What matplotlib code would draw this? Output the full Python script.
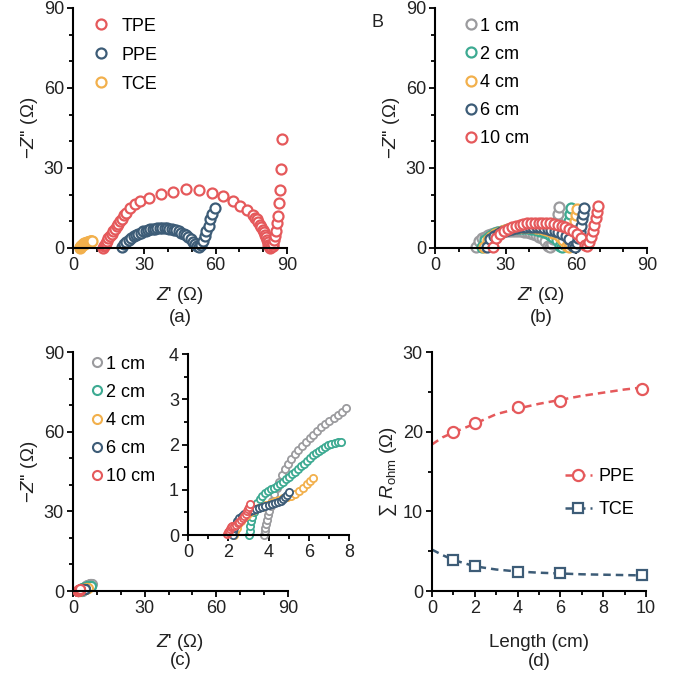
import matplotlib
matplotlib.use("Agg")
import matplotlib.pyplot as plt
from matplotlib.ticker import MultipleLocator

plt.rcParams['font.family'] = ['Liberation Sans', 'DejaVu Sans']
plt.rcParams['mathtext.fontset'] = 'custom'
plt.rcParams['mathtext.rm'] = 'Liberation Sans'
plt.rcParams['mathtext.it'] = 'Liberation Sans:italic'
plt.rcParams['font.size'] = 12.5

RED = '#E5595B'
BLUE = '#3D5C77'
ORANGE = '#F2B04C'
GREEN = '#3DAA92'
GRAY = '#9B9B9E'
TXT = '#222222'

# ---- (a) Nyquist plots of the three electrodes ----
tpe_x = [12.7, 13.0, 13.4, 13.9, 14.4, 14.9, 15.5, 16.2, 16.9, 17.6, 18.3, 19.0, 19.7, 20.4,
         21.3, 22.3, 23.9, 26.0, 28.2, 32.1, 37.0, 41.9, 47.5, 52.9, 58.3, 62.9, 67.1, 70.4,
         73.2, 75.5, 76.5, 77.2, 78.0, 78.6, 79.2, 79.7, 80.2, 80.7, 81.1, 81.4, 81.8, 82.1,
         82.5, 82.8, 83.3, 83.9, 84.3, 84.7, 85.0, 85.3, 85.6, 86.0, 86.7, 87.0, 87.3, 87.7]
tpe_y = [0.0, 0.6, 1.3, 2.0, 2.8, 3.6, 4.5, 5.4, 6.3, 7.2, 8.1, 9.0, 10.0, 11.0,
         12.2, 13.3, 15.1, 16.5, 17.6, 18.8, 20.1, 21.1, 22.0, 21.9, 20.7, 19.4, 17.8, 15.9,
         14.1, 12.2, 11.4, 10.7, 9.8, 8.8, 7.8, 6.9, 5.9, 5.0, 4.0, 3.1, 2.2, 1.3,
         0.6, 0.0, 0.2, 0.6, 1.5, 3.1, 4.6, 6.3, 9.2, 11.9, 16.7, 21.7, 29.5, 40.8]
ppe_x = [20.5, 21.5, 22.5, 23.5, 24.5, 25.5, 26.5, 27.5, 28.5, 29.5, 30.5, 31.5, 32.5, 33.5,
         34.5, 35.5, 36.5, 37.5, 38.5, 39.5, 40.5, 41.5, 42.5, 43.5, 44.5, 45.5, 46.5, 47.5,
         48.5, 49.5, 50.5, 51.5, 52.3, 53.0, 53.8, 54.5, 55.4, 56.1, 57.0, 57.7, 58.6, 59.6]
ppe_y = [0.3, 1.5, 2.4, 3.1, 3.8, 4.4, 4.9, 5.4, 5.8, 6.2, 6.5, 6.8, 7.0, 7.2,
         7.3, 7.4, 7.5, 7.5, 7.5, 7.4, 7.3, 7.1, 6.9, 6.6, 6.3, 5.8, 5.3, 4.7,
         4.0, 3.2, 2.4, 1.5, 0.7, 0.3, 1.0, 2.7, 4.6, 6.5, 8.4, 10.9, 12.8, 14.9]
tce_x = [2.8, 3.0, 3.2, 3.5, 3.8, 4.1, 4.4, 4.7, 5.0, 5.3, 5.6, 5.9, 6.2, 6.5, 6.8, 7.1, 7.4, 7.7, 8.0]
tce_y = [0.0, 0.3, 0.6, 0.9, 1.1, 1.3, 1.5, 1.7, 1.8, 1.9, 2.0, 2.1, 2.2, 2.3, 2.4, 2.5, 2.6, 2.7, 2.8]

# ---- (b) PPE with different lengths ----
b_labels = ['1 cm', '2 cm', '4 cm', '6 cm', '10 cm']
b1_x = [17.5, 18.8, 20.0, 21.3, 22.6, 23.9, 25.1, 26.4, 27.7, 28.9, 30.2, 31.5, 32.8, 34.0, 35.3,
        36.6, 37.8, 39.1, 40.4, 41.6, 42.9, 44.2, 45.5, 46.7, 48.0,
        48.8, 49.6, 50.3, 50.9, 51.4, 51.9, 52.3, 52.6]
b1_y = [0.3, 2.6, 3.6, 4.3, 4.8, 5.3, 5.6, 5.9, 6.1, 6.3, 6.4, 6.5, 6.5, 6.5, 6.4,
        6.3, 6.1, 5.9, 5.6, 5.3, 4.8, 4.3, 3.6, 2.6, 0.6,
        0.4, 1.6, 3.4, 5.5, 7.8, 10.3, 12.8, 15.5]
b2_x = [20.0, 21.4, 22.8, 24.1, 25.5, 26.9, 28.3, 29.6, 31.0, 32.4, 33.8, 35.1, 36.5, 37.9, 39.3,
        40.6, 42.0, 43.4, 44.8, 46.1, 47.5, 48.9, 50.3, 51.6, 53.0,
        53.8, 54.6, 55.3, 55.9, 56.5, 57.0, 57.5, 57.9]
b2_y = [0.3, 3.0, 4.1, 5.0, 5.6, 6.1, 6.5, 6.8, 7.1, 7.3, 7.4, 7.5, 7.5, 7.5, 7.4,
        7.3, 7.1, 6.8, 6.5, 6.1, 5.6, 5.0, 4.1, 3.0, 0.6,
        0.4, 1.6, 3.4, 5.5, 7.8, 10.2, 12.6, 15.0]
b4_x = [21.0, 22.5, 23.9, 25.4, 26.8, 28.3, 29.8, 31.2, 32.7, 34.1, 35.6, 37.0, 38.5, 40.0, 41.4,
        42.9, 44.3, 45.8, 47.2, 48.7, 50.2, 51.6, 53.1, 54.5, 56.0,
        56.8, 57.5, 58.1, 58.7, 59.2, 59.6, 60.0, 60.3]
b4_y = [0.3, 3.1, 4.3, 5.2, 5.8, 6.3, 6.8, 7.1, 7.4, 7.6, 7.7, 7.8, 7.8, 7.8, 7.7,
        7.6, 7.4, 7.1, 6.8, 6.3, 5.8, 5.2, 4.3, 3.1, 0.6,
        0.4, 1.6, 3.4, 5.5, 7.8, 10.1, 12.4, 14.6]
b6_x = [22.0, 23.5, 25.0, 26.6, 28.1, 29.6, 31.1, 32.6, 34.2, 35.7, 37.2, 38.7, 40.3, 41.8, 43.3,
        44.8, 46.3, 47.9, 49.4, 50.9, 52.4, 53.9, 55.5, 57.0, 58.5,
        59.4, 60.2, 60.9, 61.5, 62.0, 62.4, 62.8, 63.2]
b6_y = [0.3, 3.2, 4.4, 5.3, 6.0, 6.5, 6.9, 7.3, 7.5, 7.7, 7.9, 8.0, 8.0, 8.0, 7.9,
        7.7, 7.5, 7.3, 6.9, 6.5, 6.0, 5.3, 4.4, 3.2, 0.6,
        0.4, 1.8, 3.7, 6.0, 8.4, 10.7, 12.9, 15.0]
b10_x = [24.5, 26.1, 27.8, 29.4, 31.0, 32.6, 34.3, 35.9, 37.5, 39.1, 40.8, 42.4, 44.0, 45.6, 47.3,
         48.9, 50.5, 52.1, 53.8, 55.4, 57.0, 58.6, 60.3, 61.9, 63.5,
         64.5, 65.4, 66.2, 66.9, 67.6, 68.2, 68.7, 69.2]
b10_y = [0.3, 3.8, 5.2, 6.3, 7.1, 7.8, 8.3, 8.7, 9.0, 9.3, 9.4, 9.5, 9.5, 9.5, 9.4,
         9.3, 9.0, 8.7, 8.3, 7.8, 7.1, 6.3, 5.2, 3.8, 1.0,
         0.6, 2.2, 4.2, 6.4, 8.8, 11.2, 13.4, 15.6]

# ---- (c) TCE with different lengths ----
c1_x = [3.80, 3.82, 3.85, 3.88, 3.92, 3.97, 4.03, 4.10, 4.18, 4.28, 4.40, 4.53, 4.67, 4.82, 4.97,
        5.13, 5.30, 5.48, 5.66, 5.85, 6.04, 6.23, 6.43, 6.63, 6.83, 7.03, 7.23, 7.43, 7.63, 7.85]
c1_y = [0.00, 0.08, 0.16, 0.25, 0.34, 0.44, 0.54, 0.65, 0.76, 0.90, 1.04, 1.18, 1.32, 1.45, 1.57,
        1.68, 1.78, 1.88, 1.97, 2.06, 2.14, 2.22, 2.30, 2.38, 2.45, 2.52, 2.59, 2.66, 2.72, 2.80]
c2_x = [3.05, 3.07, 3.10, 3.14, 3.19, 3.26, 3.34, 3.44, 3.56, 3.69, 3.83, 3.98, 4.13, 4.28, 4.43,
        4.58, 4.73, 4.88, 5.03, 5.18, 5.33, 5.48, 5.63, 5.78, 5.93, 6.08, 6.23, 6.38, 6.53, 6.68,
        6.83, 6.98, 7.13, 7.28, 7.43, 7.60]
c2_y = [0.00, 0.10, 0.20, 0.30, 0.40, 0.50, 0.60, 0.70, 0.79, 0.86, 0.92, 0.97, 1.01, 1.05, 1.09,
        1.13, 1.18, 1.23, 1.28, 1.34, 1.40, 1.46, 1.52, 1.58, 1.64, 1.70, 1.76, 1.81, 1.86, 1.91,
        1.95, 1.98, 2.01, 2.03, 2.05, 2.06]
c4_x = [2.30, 2.35, 2.42, 2.50, 2.62, 2.76, 2.92, 3.10, 3.30, 3.50, 3.70, 3.90, 4.10, 4.30, 4.50,
        4.70, 4.90, 5.10, 5.30, 5.50, 5.70, 5.90, 6.05, 6.20]
c4_y = [0.00, 0.08, 0.16, 0.24, 0.32, 0.39, 0.45, 0.50, 0.55, 0.59, 0.63, 0.67, 0.71, 0.75, 0.78,
        0.81, 0.84, 0.86, 0.91, 0.98, 1.05, 1.13, 1.20, 1.27]
c6_x = [2.22, 2.25, 2.30, 2.36, 2.44, 2.54, 2.66, 2.80, 2.95, 3.10, 3.25, 3.40, 3.55, 3.70, 3.85,
        4.00, 4.15, 4.30, 4.45, 4.60, 4.72, 4.83, 4.93, 5.02]
c6_y = [0.00, 0.08, 0.16, 0.24, 0.31, 0.37, 0.42, 0.46, 0.50, 0.53, 0.56, 0.58, 0.60, 0.62, 0.64,
        0.66, 0.68, 0.70, 0.72, 0.75, 0.79, 0.84, 0.89, 0.94]
c10_x = [1.95, 1.98, 2.02, 2.07, 2.13, 2.20, 2.28, 2.37, 2.46, 2.55, 2.64, 2.72, 2.80, 2.87, 2.94,
         3.00, 3.05, 3.09]
c10_y = [0.02, 0.06, 0.10, 0.14, 0.17, 0.19, 0.21, 0.23, 0.26, 0.29, 0.33, 0.37, 0.42, 0.47, 0.52,
         0.57, 0.62, 0.68]

# ---- (d) ohmic resistance vs length ----
length = [1, 2, 4, 6, 9.8]
r_ppe = [19.9, 21.1, 23.1, 23.9, 25.4]
r_tce = [3.9, 3.1, 2.35, 2.2, 1.95]
fit_len = [0, 0.5, 1, 2, 3, 4, 5, 6, 7, 8, 9, 10]
fit_ppe = [18.4, 19.3, 19.9, 21.0, 22.2, 22.9, 23.5, 24.0, 24.5, 24.9, 25.3, 25.6]
fit_tce = [5.2, 4.5, 3.9, 3.1, 2.7, 2.45, 2.3, 2.2, 2.1, 2.05, 2.0, 1.95]

LABEL_FS = 13.5


def style(ax, xmaj, xmin, ymaj, ymin):
    for s in ['top', 'right']:
        ax.spines[s].set_visible(False)
    for s in ['left', 'bottom']:
        ax.spines[s].set_linewidth(1.5)
    ax.xaxis.set_major_locator(MultipleLocator(xmaj))
    ax.xaxis.set_minor_locator(MultipleLocator(xmin))
    ax.yaxis.set_major_locator(MultipleLocator(ymaj))
    ax.yaxis.set_minor_locator(MultipleLocator(ymin))
    ax.tick_params(which='major', direction='out', length=4.5, width=1.3,
                   labelsize=13, labelcolor=TXT, pad=2)
    ax.tick_params(which='minor', direction='out', length=3, width=1.3)
    ax.patch.set_alpha(0)


def nyq(ax, x, y, color, label, ms=7.2, mew=1.6):
    ax.plot(x, y, 'o', ms=ms, mfc='white', mec=color, mew=mew, label=label, clip_on=False)


def leg(ax, anchor, spacing, pad):
    ax.legend(loc='upper left', bbox_to_anchor=anchor, frameon=False, borderpad=0,
              borderaxespad=0, handlelength=0.8, handletextpad=pad, labelspacing=spacing,
              fontsize=13)


fig = plt.figure(figsize=(6.79, 6.77), dpi=100)

ZLAB = r"$Z$' (Ω)"
YLAB = r"$-Z$'' (Ω)"

# (a)
ax = fig.add_axes([0.1075, 0.6337, 0.3152, 0.3545])
nyq(ax, tpe_x, tpe_y, RED, 'TPE')
nyq(ax, ppe_x, ppe_y, BLUE, 'PPE')
nyq(ax, tce_x, tce_y, ORANGE, 'TCE')
ax.set_xlim(0, 90)
ax.set_ylim(0, 90)
style(ax, 30, 10, 30, 10)
ax.set_xlabel(ZLAB, labelpad=8, color=TXT, fontsize=LABEL_FS)
ax.set_ylabel(YLAB, labelpad=3, color=TXT, fontsize=LABEL_FS)
ax.text(0.5, -0.29, '(a)', transform=ax.transAxes, ha='center', va='center', color=TXT,
        fontsize=LABEL_FS)
leg(ax, (0.095, 0.96), 0.67, 0.75)

# (b)
ax = fig.add_axes([0.6406, 0.6337, 0.3122, 0.3545])
for x, y, c, lab in zip([b1_x, b2_x, b4_x, b6_x, b10_x], [b1_y, b2_y, b4_y, b6_y, b10_y],
                        [GRAY, GREEN, ORANGE, BLUE, RED], b_labels):
    nyq(ax, x, y, c, lab)
ax.set_xlim(0, 90)
ax.set_ylim(0, 90)
style(ax, 30, 10, 30, 10)
ax.set_xlabel(ZLAB, labelpad=8, color=TXT, fontsize=LABEL_FS)
ax.set_ylabel(YLAB, labelpad=3, color=TXT, fontsize=LABEL_FS)
ax.text(0.5, -0.29, '(b)', transform=ax.transAxes, ha='center', va='center', color=TXT,
        fontsize=LABEL_FS)
ax.text(-0.27, 0.9375, 'B', transform=ax.transAxes, ha='center', va='center', color=TXT,
        fontsize=13)
leg(ax, (0.135, 0.96), 0.62, 0.1)

# (c)
c_series = [(c1_x, c1_y, GRAY), (c2_x, c2_y, GREEN), (c4_x, c4_y, ORANGE),
            (c6_x, c6_y, BLUE), (c10_x, c10_y, RED)]
ax = fig.add_axes([0.1075, 0.127, 0.3166, 0.353])
for (x, y, c), lab in zip(c_series, b_labels):
    nyq(ax, x, y, c, lab, ms=6.5, mew=1.5)
ax.set_xlim(0, 90)
ax.set_ylim(0, 90)
style(ax, 30, 10, 30, 10)
ax.set_xlabel(ZLAB, labelpad=11, color=TXT, fontsize=LABEL_FS)
ax.set_ylabel(YLAB, labelpad=3, color=TXT, fontsize=LABEL_FS)
ax.text(0.5, -0.289, '(c)', transform=ax.transAxes, ha='center', va='center', color=TXT,
        fontsize=LABEL_FS)
leg(ax, (0.08, 0.985), 0.62, 0.1)

# inset of (c)
axi = fig.add_axes([0.2769, 0.2097, 0.2371, 0.2674])
for x, y, c in c_series:
    nyq(axi, x, y, c, None, ms=5.2, mew=1.3)
axi.set_xlim(0, 8)
axi.set_ylim(0, 4)
style(axi, 2, 1, 1, 0.5)

# (d)
ax = fig.add_axes([0.6362, 0.127, 0.3152, 0.353])
ax.plot(fit_len, fit_ppe, '--', color=RED, lw=1.8, dashes=(3, 2), clip_on=False)
ax.plot(fit_len, fit_tce, '--', color=BLUE, lw=1.8, dashes=(3, 2), clip_on=False)
ax.plot(length, r_ppe, 'o', ms=8, mfc='white', mec=RED, mew=1.6, clip_on=False)
ax.plot(length, r_tce, 's', ms=7.5, mfc='white', mec=BLUE, mew=1.6, clip_on=False)
h1, = ax.plot([], [], '--o', color=RED, lw=1.8, dashes=(3, 2), ms=8, mfc='white', mec=RED, mew=1.6)
h2, = ax.plot([], [], '--s', color=BLUE, lw=1.8, dashes=(3, 2), ms=7.5, mfc='white', mec=BLUE, mew=1.6)
ax.set_xlim(0, 10)
ax.set_ylim(0, 30)
style(ax, 2, 1, 10, 5)
ax.set_xlabel('Length (cm)', labelpad=12, color=TXT, fontsize=LABEL_FS)
ax.set_ylabel(r"∑ $R_{\mathrm{ohm}}$ (Ω)", labelpad=3, color=TXT, fontsize=LABEL_FS)
ax.text(0.5, -0.297, '(d)', transform=ax.transAxes, ha='center', va='center', color=TXT,
        fontsize=LABEL_FS)
ax.legend([h1, h2], ['PPE', 'TCE'], loc='upper left', bbox_to_anchor=(0.62, 0.515),
          frameon=False, borderpad=0, borderaxespad=0, handlelength=1.5, handletextpad=0.4,
          labelspacing=0.9, fontsize=13)

fig.savefig('out.png', dpi=100)
